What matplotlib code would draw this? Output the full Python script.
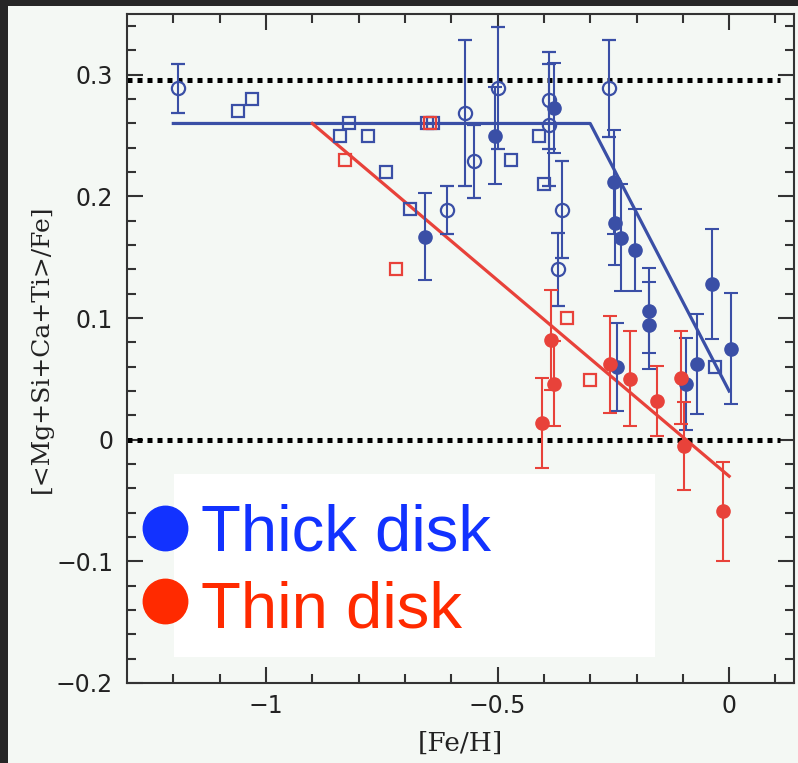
#Import Statements
import matplotlib
matplotlib.use("Agg")
import matplotlib.pyplot as plt
import numpy as np
from matplotlib.patches import Rectangle

#Thick disk, open circles with error bars
thick_circ_x = [-1.19, -0.57, -0.55, -0.50, -0.39, -0.39, -0.36, -0.37, -0.61, -0.26]
thick_circ_y = [0.289, 0.269, 0.229, 0.289, 0.279, 0.259, 0.189, 0.140, 0.189, 0.289]
thick_circ_err = [0.020, 0.060, 0.030, 0.050, 0.040, 0.050, 0.040, 0.030, 0.020, 0.040]

#Thick disk, filled circles with error bars
thick_fill_x = [-0.506, -0.379, -0.657, -0.248, -0.246, -0.233, -0.204, -0.172,
                -0.173, -0.037, 0.004, -0.070, -0.093, -0.242]
thick_fill_y = [0.250, 0.273, 0.167, 0.212, 0.178, 0.166, 0.156, 0.106,
                0.094, 0.128, 0.075, 0.062, 0.046, 0.060]
thick_fill_err = [0.040, 0.037, 0.036, 0.043, 0.034, 0.044, 0.034, 0.035,
                  0.036, 0.045, 0.046, 0.041, 0.038, 0.036]

#Thick disk, open squares
thick_sq_x = [-1.061, -1.03, -0.84, -0.82, -0.78, -0.74, -0.69, -0.653, -0.639,
              -0.471, -0.41, -0.40, -0.03]
thick_sq_y = [0.27, 0.28, 0.25, 0.26, 0.25, 0.22, 0.19, 0.26, 0.26,
              0.23, 0.25, 0.21, 0.06]

#Thin disk, filled circles with error bars
thin_fill_x = [-0.257, -0.214, -0.156, -0.104, -0.097, -0.014, -0.385, -0.379, -0.403]
thin_fill_y = [0.062, 0.050, 0.032, 0.051, -0.005, -0.059, 0.082, 0.046, 0.014]
thin_fill_err = [0.040, 0.039, 0.029, 0.038, 0.036, 0.041, 0.041, 0.035, 0.037]

#Thin disk, open squares
thin_sq_x = [-0.83, -0.72, -0.646, -0.35, -0.30]
thin_sq_y = [0.23, 0.14, 0.26, 0.10, 0.049]

#Trend lines
thick_fit_x = [-1.2, -0.3, 0.0]
thick_fit_y = [0.26, 0.26, 0.04]
thin_fit_x = [-0.9, 0.0]
thin_fit_y = [0.26, -0.03]

#Reference levels (dotted)
ref_levels = [0.296, 0.0]
ref_x = [-1.3, 0.11]

#Ticks
xticks = [-1, -0.5, 0]
xticklabels = ["\u22121", "\u22120.5", "0"]
yticks = [-0.2, -0.1, 0, 0.1, 0.2, 0.3]
yticklabels = ["\u22120.2", "\u22120.1", "0", "0.1", "0.2", "0.3"]

legend_names = ["Thick disk", "Thin disk"]

BLUE = "#3a4fa6"
RED = "#e8423a"
LEG_BLUE = "#1232ff"
LEG_RED = "#ff2a00"
LIGHT = "#f4f8f4"

#Create Plot
fig = plt.figure(figsize=(7.98, 7.63), dpi=100, facecolor="#262626")
fig.patches.append(Rectangle((8/798., 0), 1, 757/763., transform=fig.transFigure,
                             facecolor=LIGHT, edgecolor="none", zorder=-5))
axes = fig.add_axes([127/798., 80/763., 667/798., 669/763.])
axes.set_facecolor(LIGHT)

#Dotted reference lines
for lev in ref_levels:
    axes.plot(ref_x, [lev, lev], color="k", lw=3.6, linestyle=(0, (1, 1)),
              dash_capstyle="butt", zorder=2)

#Trend lines
axes.plot(thick_fit_x, thick_fit_y, color=BLUE, lw=2.3, zorder=3)
axes.plot(thin_fit_x, thin_fit_y, color=RED, lw=2.3, zorder=3)

ebkw = dict(linestyle="none", elinewidth=1.5, capsize=5, capthick=1.5, zorder=4)
#Thick disk points
axes.errorbar(thick_circ_x, thick_circ_y, yerr=thick_circ_err, fmt="o", ms=9.5,
              mfc="none", mec=BLUE, mew=1.6, ecolor=BLUE, **ebkw)
axes.errorbar(thick_fill_x, thick_fill_y, yerr=thick_fill_err, fmt="o", ms=9.5,
              mfc=BLUE, mec=BLUE, ecolor=BLUE, **ebkw)
axes.plot(thick_sq_x, thick_sq_y, "s", ms=8, mfc="none", mec=BLUE, mew=1.6, zorder=4)
#Thin disk points
axes.errorbar(thin_fill_x, thin_fill_y, yerr=thin_fill_err, fmt="o", ms=9.5,
              mfc=RED, mec=RED, ecolor=RED, **ebkw)
axes.plot(thin_sq_x, thin_sq_y, "s", ms=8, mfc="none", mec=RED, mew=1.6, zorder=4)

#Axes limits and ticks
axes.set_xlim(-1.3, 0.14)
axes.set_ylim(-0.2, 0.35)
axes.set_xticks(xticks)
axes.set_xticklabels(xticklabels)
axes.set_yticks(yticks)
axes.set_yticklabels(yticklabels)
axes.set_xticks(np.arange(-1.2, 0.15, 0.1), minor=True)
axes.set_yticks(np.arange(-0.18, 0.35, 0.02), minor=True)
axes.tick_params(which="both", direction="in", top=True, right=True,
                 color="#333333", width=1.5, labelsize=17, labelcolor="#222222")
axes.tick_params(which="major", length=11.5)
axes.tick_params(which="minor", length=6.5)
axes.tick_params(axis="y", pad=10)
axes.tick_params(axis="x", pad=8)
for sp in axes.spines.values():
    sp.set_color("#333333")
    sp.set_linewidth(1.5)

axes.set_xlabel("[Fe/H]", family="DejaVu Serif", fontsize=19, color="#222222")
axes.set_ylabel("[<Mg+Si+Ca+Ti>/Fe]", family="DejaVu Serif", fontsize=18, color="#222222")
axes.xaxis.set_label_coords(0.5, -0.072)
axes.yaxis.set_label_coords(-0.111, 0.5)

#Legend box drawn by hand
axes.add_patch(Rectangle((0.0705, 0.039), 0.721, 0.2735, transform=axes.transAxes,
                         facecolor="white", edgecolor="none", zorder=5))
leg_y = [0.2317, 0.1226]
leg_base = [0.1988, 0.0837]
for name, col, yc, yb in zip(legend_names, [LEG_BLUE, LEG_RED], leg_y, leg_base):
    axes.plot([0.057], [yc], "o", ms=32, color=col, transform=axes.transAxes,
              clip_on=False, zorder=6)
    axes.text(0.111, yb, name, color=col, fontsize=47, family="Liberation Sans",
              transform=axes.transAxes, va="baseline", ha="left", zorder=6)

fig.savefig("out.png", dpi=100, facecolor=fig.get_facecolor())
